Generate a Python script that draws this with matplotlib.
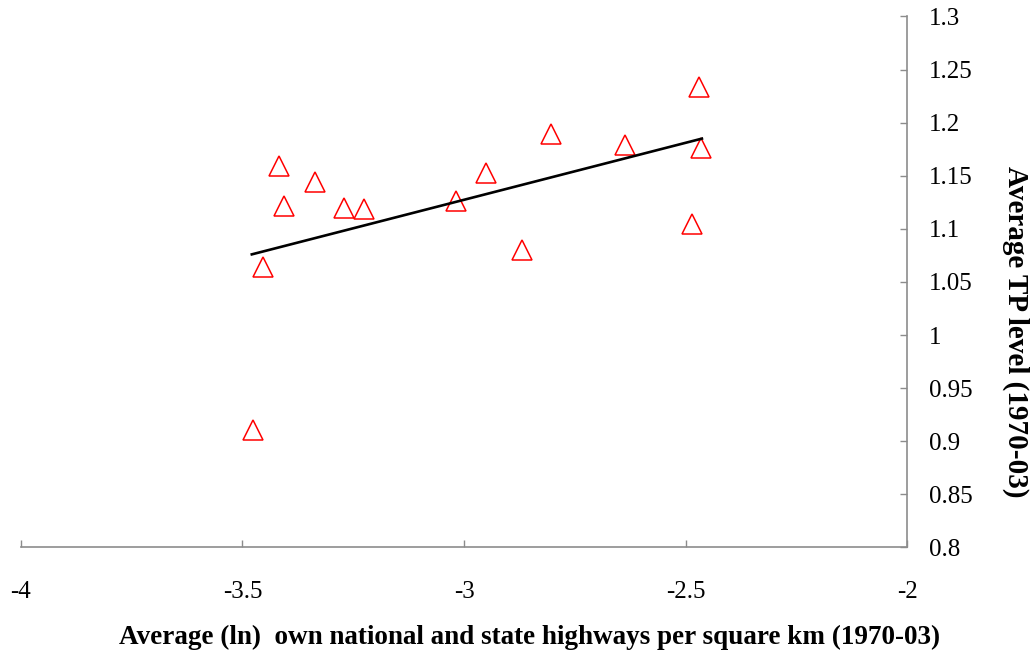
import numpy as np
import matplotlib
matplotlib.use("Agg")
import matplotlib.pyplot as plt

plt.rcParams["font.family"] = ["Liberation Serif", "DejaVu Serif"]

# highway density (ln) vs average TP level
highways = [-3.476, -3.454, -3.418, -3.406, -3.336, -3.272, -3.226, -3.017,
            -2.950, -2.868, -2.803, -2.637, -2.485, -2.470, -2.466]
tp_level = [0.911, 1.064, 1.159, 1.122, 1.144, 1.120, 1.119, 1.126,
            1.153, 1.080, 1.189, 1.179, 1.105, 1.234, 1.176]

# fitted trend line end points
trend_x = [-3.479, -2.463]
trend_y = [1.076, 1.185]

x_ticks = [-4, -3.5, -3, -2.5, -2]
x_labels = ["-4", "-3.5", "-3", "-2.5", "-2"]
y_ticks = [0.8, 0.85, 0.9, 0.95, 1.0, 1.05, 1.1, 1.15, 1.2, 1.25, 1.3]
y_labels = ["0.8", "0.85", "0.9", "0.95", "1", "1.05", "1.1", "1.15", "1.2", "1.25", "1.3"]

fig = plt.figure(figsize=(10.34, 6.59), dpi=100)
ax = fig.add_axes([0.0203, 0.1692, 0.8569, 0.8058])

ax.plot(highways, tp_level, linestyle="none", marker="^", markersize=15,
        markerfacecolor="none", markeredgecolor="#ff0000", markeredgewidth=1.1)
ax.plot(trend_x, trend_y, color="black", linewidth=1.9)

ax.set_xlim(-4, -2)
ax.set_ylim(0.8, 1.3)

# y axis lives on the right, only bottom and right spines shown
for side in ["top", "left"]:
    ax.spines[side].set_visible(False)
for side in ["bottom", "right"]:
    ax.spines[side].set_color("#8c8c8c")
    ax.spines[side].set_linewidth(1.2)

ax.yaxis.tick_right()
ax.set_xticks(x_ticks)
ax.set_xticklabels(x_labels)
ax.set_yticks(y_ticks)
ax.set_yticklabels(y_labels)
ax.tick_params(axis="x", direction="in", length=5, width=1.0, color="#8c8c8c",
               labelsize=18, pad=24)
ax.tick_params(axis="y", direction="in", length=5, width=1.0, color="#8c8c8c",
               labelsize=18, pad=16)

fig.text(0.5126, 0.033, "Average (ln)  own national and state highways per square km (1970-03)",
         ha="center", va="center", fontsize=19.5, fontweight="bold")
fig.text(0.982, 0.497, "Average TP level (1970-03)", ha="center", va="center",
         rotation=-90, fontsize=21, fontweight="bold")

fig.savefig("out.png", dpi=100)
